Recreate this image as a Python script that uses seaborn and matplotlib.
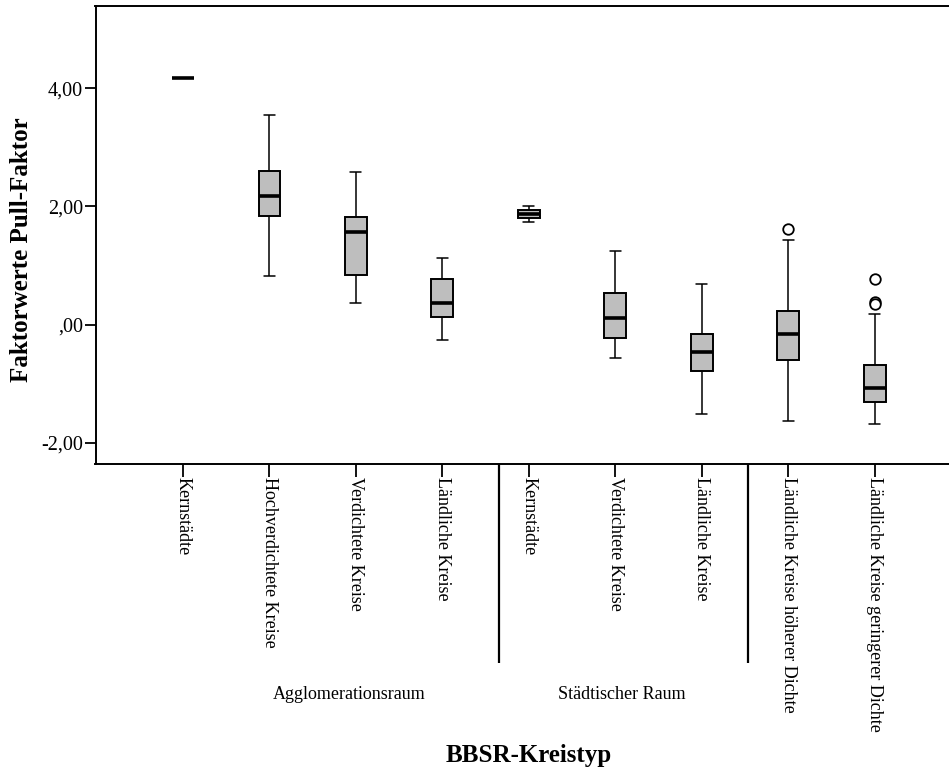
import matplotlib
matplotlib.use("Agg")
import matplotlib.pyplot as plt
import numpy as np
import pandas as pd
import seaborn as sns
from matplotlib.ticker import FixedLocator, FuncFormatter
from matplotlib.transforms import blended_transform_factory

# BBSR district types (x categories, left to right)
kreistypen = [
    "Kernstädte", "Hochverdichtete Kreise", "Verdichtete Kreise", "Ländliche Kreise",
    "Kernstädte", "Verdichtete Kreise", "Ländliche Kreise",
    "Ländliche Kreise höherer Dichte", "Ländliche Kreise geringerer Dichte",
]
raumtypen = ["Agglomerationsraum", "Städtischer Raum"]

# Five-number summaries of the pull-factor scores per district type
whisker_unten = [4.18, 0.825, 0.373, -0.259, 1.744, -0.559, -1.507, -1.626, -1.677]
quartil_1     = [4.18, 1.834, 0.847,  0.130, 1.807, -0.220, -0.784, -0.598, -1.304]
median        = [4.18, 2.179, 1.563,  0.373, 1.880,  0.113, -0.469, -0.164, -1.072]
quartil_3     = [4.18, 2.608, 1.829,  0.779, 1.948,  0.537, -0.158,  0.237, -0.689]
whisker_oben  = [4.18, 3.544, 2.586,  1.129, 2.015,  1.253,  0.683,  1.439,  0.186]
ausreisser = [[], [], [], [], [], [], [], [1.614], [0.768, 0.378, 0.350]]

y_ticks = [-2, 0, 2, 4]


def werte(lo, a, m, b, hi, extra):
    """Observations whose quartiles and whisker ends equal the given summary."""
    if lo == a == m == b == hi:
        return [m]
    # ten copies of each hinge keep the quartiles fixed with up to three outliers
    return [lo] + [a] * 10 + [m] * 10 + [b] * 10 + [hi] + list(extra)


schluessel = [f"{i}" for i in range(len(kreistypen))]
rows = []
for key, lo, a, m, b, hi, ex in zip(schluessel, whisker_unten, quartil_1, median,
                                    quartil_3, whisker_oben, ausreisser):
    for v in werte(lo, a, m, b, hi, ex):
        rows.append({"kreis": key, "wert": v})
df = pd.DataFrame(rows)

sns.set_style("ticks")
plt.rcParams["font.family"] = ["Liberation Serif", "DejaVu Serif"]
plt.rcParams["text.color"] = "black"
plt.rcParams["axes.labelcolor"] = "black"
plt.rcParams["xtick.color"] = "black"
plt.rcParams["ytick.color"] = "black"

W, H = 949, 772
fig = plt.figure(figsize=(W / 100, H / 100), dpi=100)
ax = fig.add_axes([95.5 / W, (H - 464.3) / H, (956 - 95.5) / W, 458.3 / H])

sns.boxplot(
    data=df, x="kreis", y="wert", order=schluessel, ax=ax,
    width=0.25, saturation=1, color="#bebebe",
    boxprops=dict(facecolor="#bebebe", edgecolor="black", linewidth=1.4),
    medianprops=dict(color="black", linewidth=2.6, solid_capstyle="butt"),
    whiskerprops=dict(color="black", linewidth=1.1),
    capprops=dict(color="black", linewidth=1.1),
    flierprops=dict(marker="o", markerfacecolor="white", markeredgecolor="black",
                    markersize=7.6, markeredgewidth=1.3, linestyle="none"),
)

ax.set_xlim(-1.01, 8.94)
ax.set_ylim(-2.366, 5.394)

ax.yaxis.set_major_locator(FixedLocator(y_ticks))


def spss_format(v, _pos):
    s = f"{abs(v):.2f}".replace(".", ",")
    if s.startswith("0"):
        s = s[1:]
    return ("-" if v < 0 else "") + s


ax.yaxis.set_major_formatter(FuncFormatter(spss_format))
ax.tick_params(axis="y", direction="out", length=8, width=1.3, labelsize=14.5, pad=1,
               colors="black")
ax.set_xticks(range(len(kreistypen)))
ax.set_xticklabels(kreistypen, rotation=-90, ha="center", va="top", fontsize=13,
                   color="black")
ax.tick_params(axis="x", direction="out", length=9, width=1.3, pad=0, colors="black")

for side in ["left", "top", "bottom"]:
    ax.spines[side].set_linewidth(1.4)
    ax.spines[side].set_color("black")
ax.spines["right"].set_visible(False)
ax.set_xlabel("")
ax.set_ylabel("")

# group separators and group captions below the category labels
trans = blended_transform_factory(ax.transData, fig.transFigure)
for xs in [3.65, 6.535]:
    ax.plot([xs, xs], [(H - 464.3) / H, (H - 663) / H], color="black", lw=1.6,
            transform=trans, clip_on=False, solid_capstyle="butt")
for label, xc in zip(raumtypen, [1.92, 5.07]):
    ax.text(xc, (H - 699) / H, label, transform=trans, ha="center", va="baseline",
            fontsize=13, color="black")

fig.text(529 / W, (H - 762) / H, "BBSR-Kreistyp", ha="center", va="baseline",
         fontsize=18, fontweight="bold", color="black")
fig.text(22 / W, (H - 250) / H, "Faktorwerte Pull-Faktor", rotation=90,
         ha="center", va="center", fontsize=18, fontweight="bold", color="black")

fig.savefig("out.png", dpi=100)
